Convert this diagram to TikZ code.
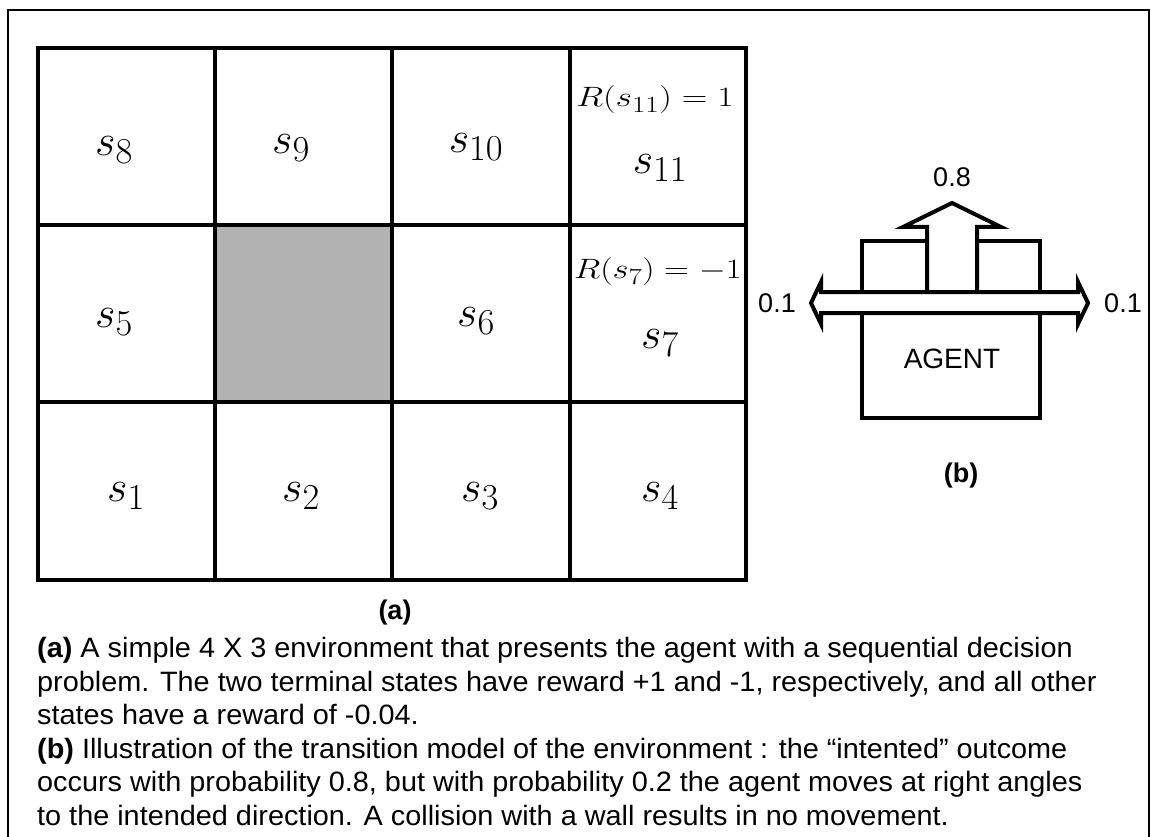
\RequirePackage{fix-cm}
\documentclass[tikz,border=0pt]{standalone}
\usepackage[no-math]{fontspec}
\setmainfont{Liberation Sans}
\newfontfamily\capfont[FakeStretch=1.03]{Liberation Sans}
% large cell labels keep big subscripts
\DeclareMathSizes{44}{44}{36.5}{30}
\DeclareMathSizes{28}{28}{23}{19}
\begin{document}
\begin{tikzpicture}[x=1pt,y=-1pt,
  frame/.style={line width=2.5pt},
  gridline/.style={line width=4pt, line cap=rect},
  wall/.style={fill=black!30},
  state/.style={inner sep=0pt, anchor=center, font=\fontsize{44}{48}\selectfont},
  reward/.style={inner sep=0pt, anchor=center, font=\fontsize{28}{30}\selectfont},
  agentline/.style={line width=4pt, line join=miter},
  prob/.style={inner sep=0pt, anchor=center, font=\fontsize{27}{30}\selectfont},
  sublabel/.style={inner sep=0pt, anchor=center, font=\fontsize{27}{30}\selectfont\bfseries},
  capline/.style={inner sep=0pt, anchor=base west, font=\fontsize{28}{33.6}\capfont}
]
\useasboundingbox (0,0) rectangle (1151,837);
% outer frame (its bottom edge lies below the page)
\draw[frame] (8,10) rectangle (1149,860);

% ---- (a) the 4 x 3 world ----
\fill[wall] (215,225) rectangle (392,402);
\foreach \gx in {37.5,215,392,570,746}
  \draw[gridline] (\gx,48) -- (\gx,580);
\foreach \gy in {48,225,402,580}
  \draw[gridline] (37.5,\gy) -- (746,\gy);

\node[state] (s8)  at (114,150) {$s_8$};
\node[state] (s9)  at (291,148) {$s_9$};
\node[state] (s10) at (476,147) {$s_{10}$};
\node[state] (s11) at (660,168) {$s_{11}$};
\node[state] (s5)  at (114,322) {$s_5$};
\node[state] (s6)  at (476,321) {$s_6$};
\node[state] (s7)  at (660,343) {$s_7$};
\node[state] (s1)  at (126,496) {$s_1$};
\node[state] (s2)  at (301,496) {$s_2$};
\node[state] (s3)  at (480,496) {$s_3$};
\node[state] (s4)  at (660,496) {$s_4$};
\node[reward] (r11) at (655,100) {\scalebox{1.27}[1]{$R(s_{11})=1$}};
\node[reward] (r7)  at (658,272) {\scalebox{1.24}[1]{$R(s_7)=-1$}};

\node[sublabel] (la) at (395,613) {(a)};

% ---- (b) the transition model ----
\draw[agentline] (862,241) rectangle (1040,418);
% intended move: upward arrow
\draw[agentline, fill=white]
  (927,296) -- (927,227) -- (903,227) -- (952,203) -- (1001,227)
  -- (977,227) -- (977,296);
% slips to either side: double-headed arrow
\draw[agentline, fill=white]
  (821,292) -- (1078,292) -- (1078,282) -- (1088,303) -- (1078,324)
  -- (1078,313) -- (821,313) -- (821,324) -- (811,303) -- (821,282) -- cycle;

\node[prob] (pup) at (952,177) {0.8};
\node[prob] (pl)  at (777,303) {0.1};
\node[prob] (pr)  at (1123,303) {0.1};
\node[inner sep=0pt, font=\fontsize{28}{30}\selectfont] (agent) at (952,359) {AGENT};
\node[sublabel] (lb) at (961,476) {(b)};

% ---- caption ----
\node[capline] (c1) at (37,657) {\textbf{(a)} A simple 4 X 3 environment that presents the agent with a sequential decision};
\node[capline] (c2) at (37,691) {problem. The two terminal states have reward +1 and -1, respectively, and all other};
\node[capline] (c3) at (37,724) {states have a reward of -0.04.};
\node[capline] (c4) at (37,758) {\textbf{(b)} Illustration of the transition model of the environment : the “intented” outcome};
\node[capline] (c5) at (37,791) {occurs with probability 0.8, but with probability 0.2 the agent moves at right angles};
\node[capline] (c6) at (37,825) {to the intended direction. A collision with a wall results in no movement.};
\end{tikzpicture}
\end{document}
